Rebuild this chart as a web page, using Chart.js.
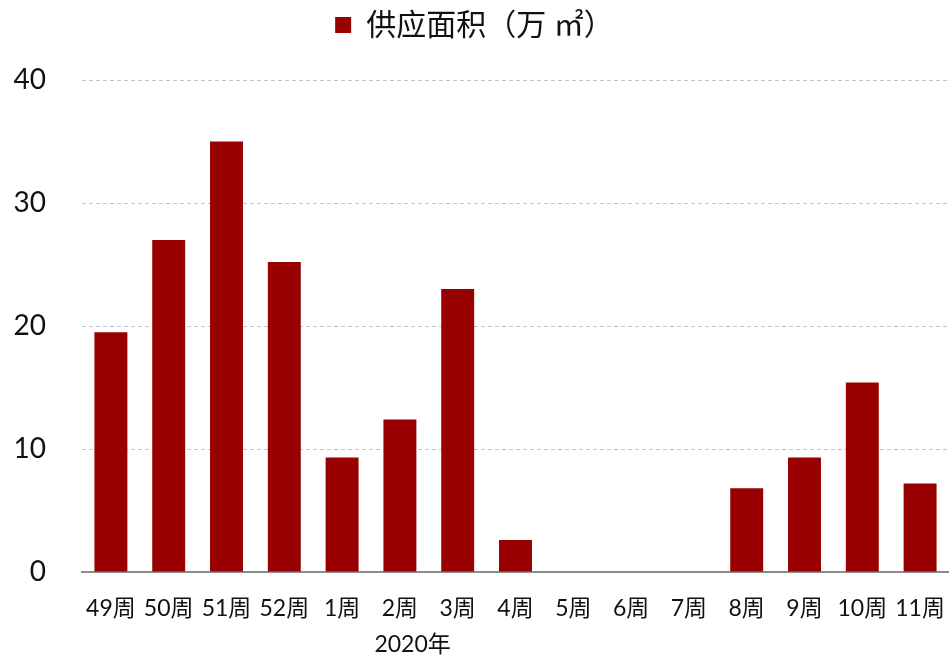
<!DOCTYPE html>
<html>
<head>
<meta charset="utf-8">
<script src="https://cdn.jsdelivr.net/npm/chart.js@4"></script>
<style>
  html, body { margin: 0; padding: 0; background: #fff; }
  #wrap { width: 949px; height: 660px; }
</style>
</head>
<body>
<div id="wrap"><canvas id="c"></canvas></div>
<script>
// 供应面积（万㎡） 周度数据
const weeks = ['49周', '50周', '51周', '52周', '1周', '2周', '3周', '4周', '5周', '6周', '7周', '8周', '9周', '10周', '11周'];
const supply = [19.5, 27, 35, 25.2, 9.3, 12.4, 23, 2.6, 0, 0, 0, 6.8, 9.3, 15.4, 7.2];
const yearLabel = '2020年';
const seriesName = '供应面积（万 ㎡）';

const FONT = 'Lato, "Noto Sans CJK SC", sans-serif';

// 图例占满顶部 80px，让绘图区从 40 的刻度线开始
const legendHeight = {
  id: 'legendHeight',
  beforeLayout(chart) {
    const lg = chart.legend;
    if (!lg || lg._fixed) return;
    const fit = lg.fit.bind(lg);
    lg.fit = function () { fit(); this.height = 80; };
    lg._fixed = true;
  }
};

// 第二行分组标签
const yearRow = {
  id: 'yearRow',
  afterDraw(chart) {
    const x = chart.scales.x;
    const ctx = chart.ctx;
    const step = x.getPixelForValue(1) - x.getPixelForValue(0);
    ctx.save();
    ctx.font = '23px ' + FONT;
    ctx.fillStyle = '#111';
    ctx.textAlign = 'center';
    ctx.textBaseline = 'middle';
    ctx.fillText(yearLabel, x.getPixelForValue(5) + step * 0.22, 645);
    ctx.restore();
  }
};

new Chart(document.getElementById('c'), {
  type: 'bar',
  data: {
    labels: weeks,
    datasets: [{
      label: seriesName,
      data: supply,
      backgroundColor: '#990000',
      borderWidth: 0,
      barPercentage: 0.57,
      categoryPercentage: 1
    }]
  },
  options: {
    responsive: true,
    maintainAspectRatio: false,
    animation: false,
    layout: { padding: 0 },
    plugins: {
      legend: {
        display: true,
        labels: {
          color: '#111',
          font: { size: 30, family: FONT },
          boxWidth: 16,
          boxHeight: 16,
          padding: 10
        }
      },
      tooltip: { enabled: false }
    },
    scales: {
      x: {
        grid: { display: false, drawTicks: false },
        border: { display: true, color: '#8c8c8c', width: 2 },
        ticks: { color: '#111', font: { size: 23, family: FONT }, padding: 23, autoSkip: false, maxRotation: 0 },
        afterFit: s => { s.height = 88; s.paddingLeft = 0; s.paddingRight = 0; }
      },
      y: {
        min: 0,
        max: 40,
        grid: { color: '#c4c4c4', lineWidth: 1, drawTicks: false },
        border: { display: false, dash: [4, 3] },
        ticks: { stepSize: 10, color: '#111', font: { size: 28, family: FONT }, padding: 36 },
        afterFit: s => { s.width = 82; }
      }
    }
  },
  plugins: [legendHeight, yearRow]
});
</script>
</body>
</html>
